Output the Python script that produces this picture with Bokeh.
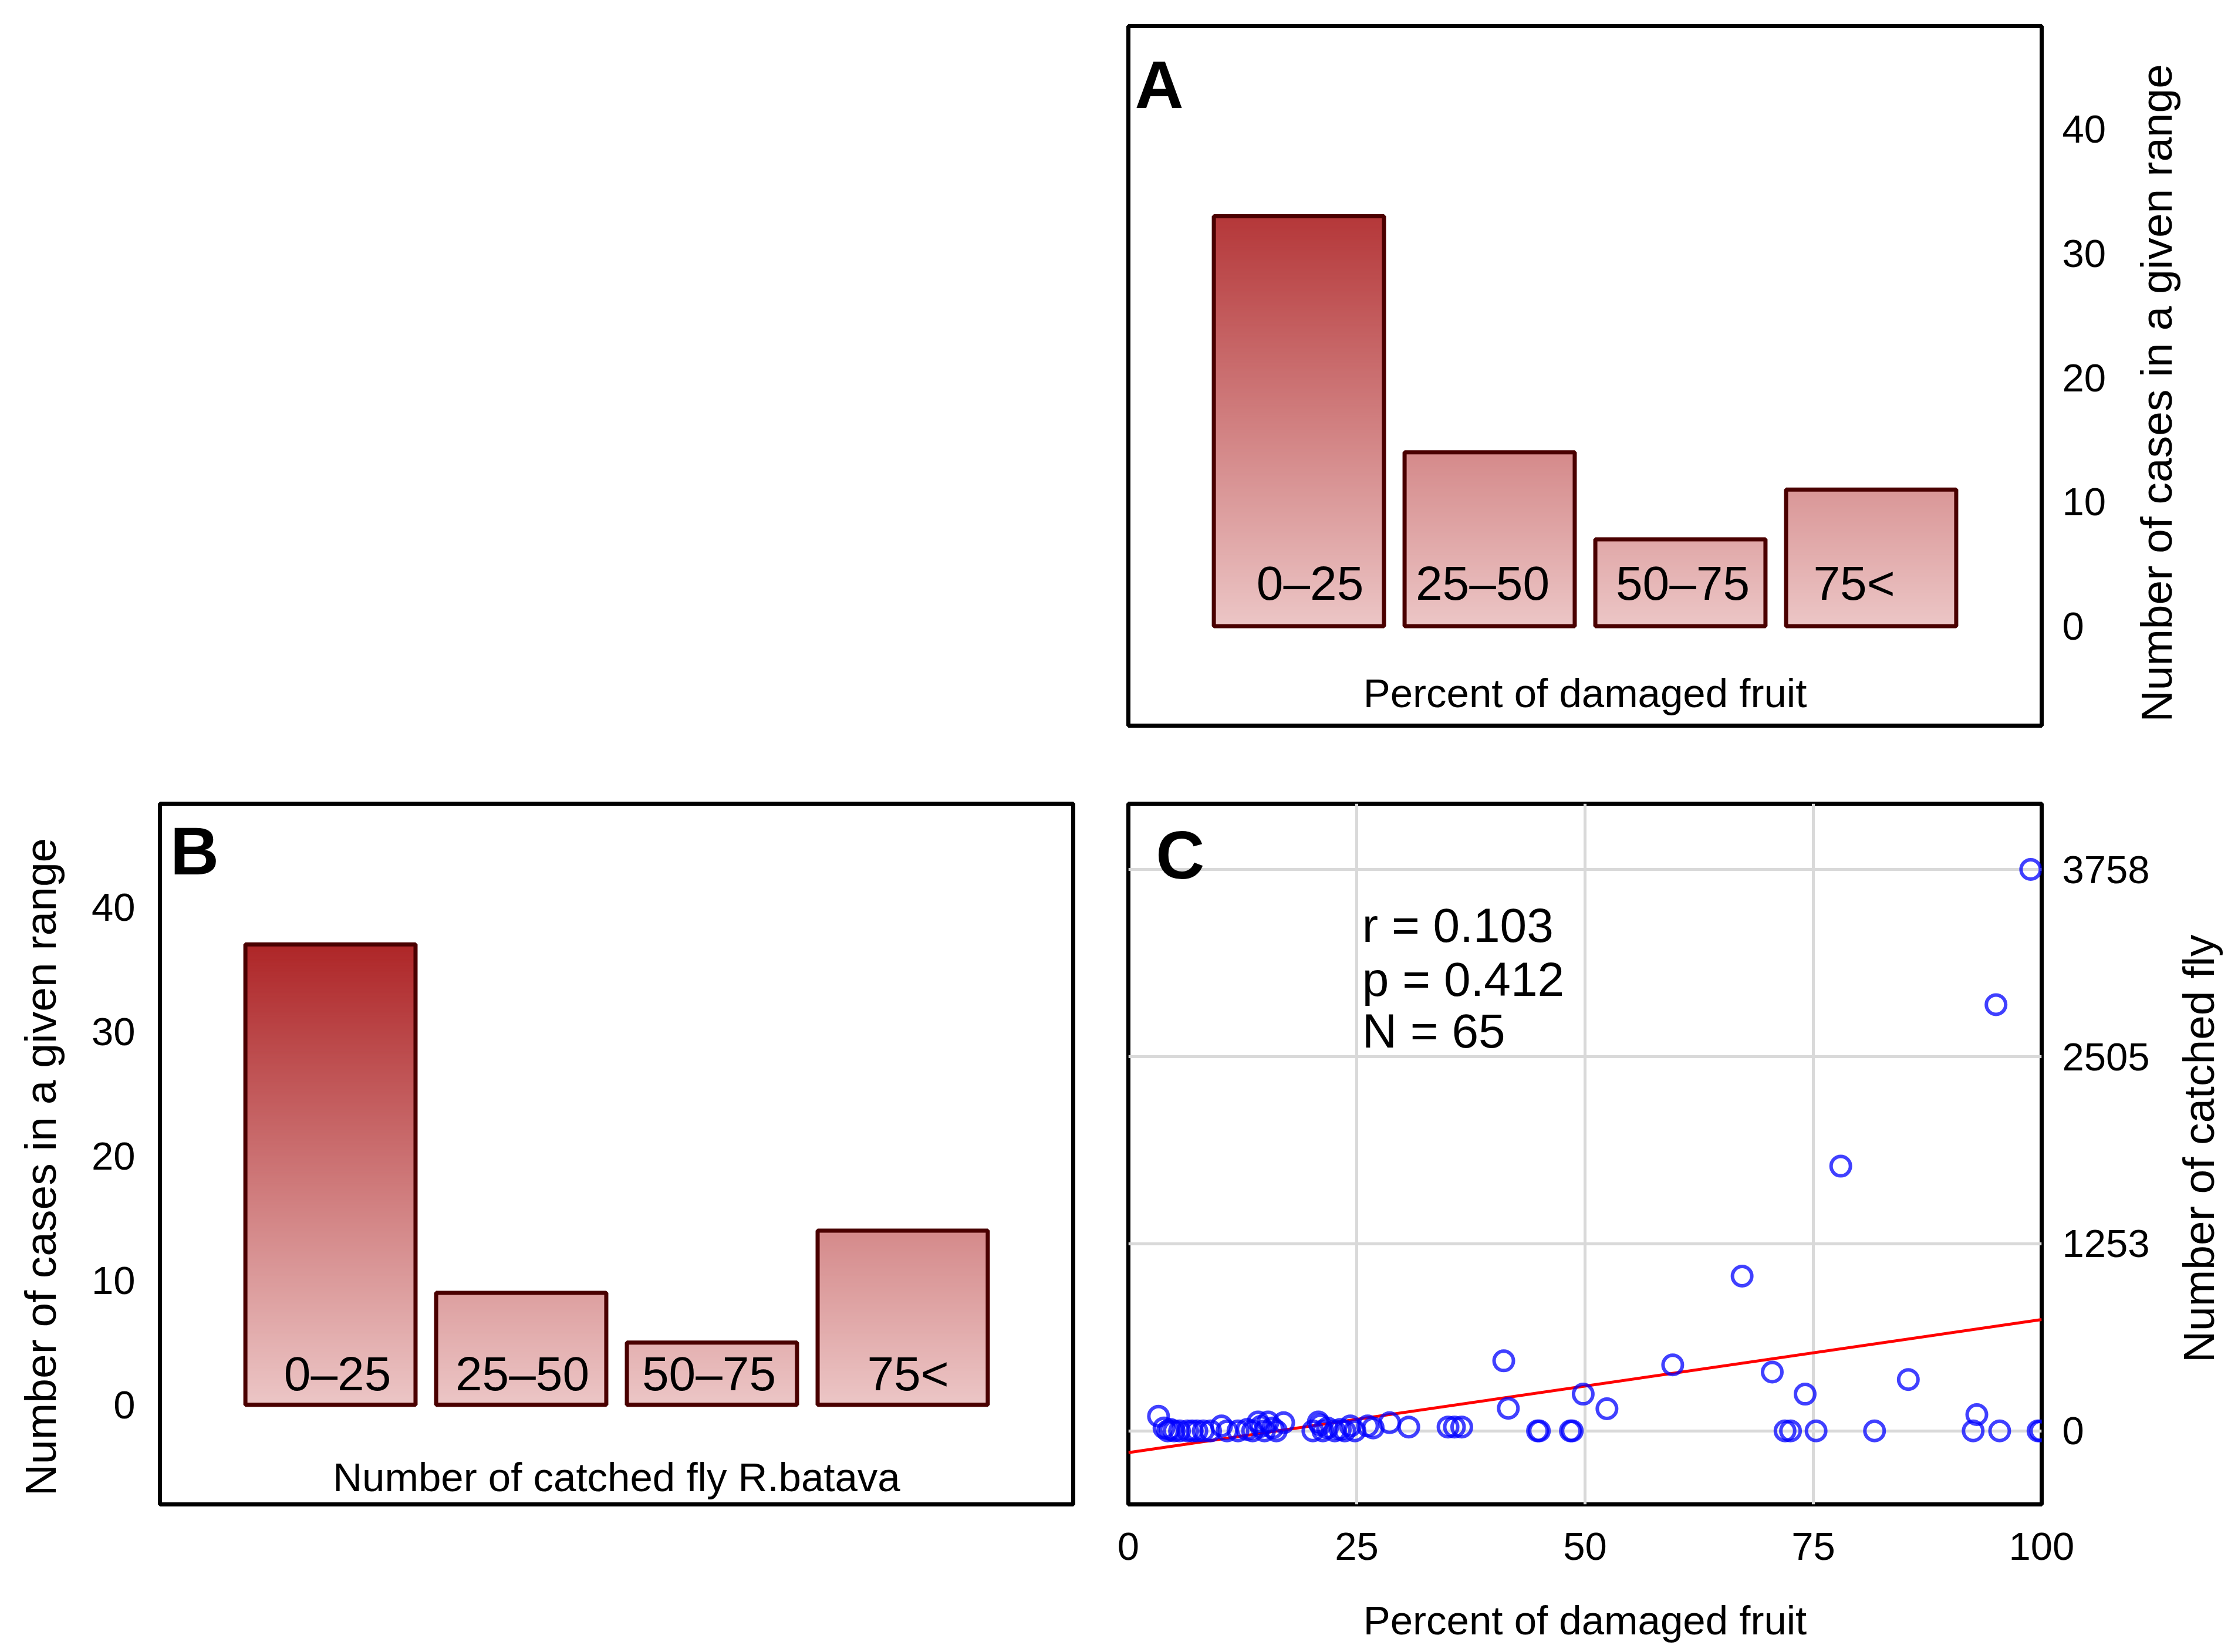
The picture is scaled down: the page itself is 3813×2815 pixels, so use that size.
import math
import numpy as np

from bokeh.plotting import figure
from bokeh.models import Range1d, FixedTicker, Label, Spacer
from bokeh.layouts import row, column
from bokeh.core.properties import value
from bokeh.embed import file_html
from bokeh.resources import INLINE

# ---- data ----
ranges = ['0–25', '25–50', '50–75', '75<']
damaged_cases = [33, 14, 7, 11]      # panel A
fly_cases = [37, 9, 5, 14]           # panel B

fruit_pct = [3.3, 3.9, 4.3, 4.6, 5.0, 5.6, 6.5, 7.0, 7.5, 8.2, 9.0, 10.2, 10.8, 12.0,
             13.0, 13.6, 14.2, 14.5, 14.9, 15.3, 15.8, 16.2, 17.0, 20.2, 20.8, 21.0,
             21.3, 21.8, 22.6, 23.2, 23.7, 24.3, 24.8,
             26.2, 26.8, 28.6, 30.7, 35.0, 35.7, 36.5, 41.1, 41.6, 44.8, 45.0, 48.4,
             48.6, 49.8,
             52.4, 59.6, 67.2, 70.5, 71.9, 72.5, 74.1,
             75.3, 78.0, 81.7, 85.4, 92.5, 92.9, 95.0, 95.4, 98.8, 99.6, 99.9]
fly_count = [98, 20, 0, 10, 0, 0, 0, 0, 0, 0, 0, 33, 0, 0,
             10, 0, 60, 30, 0, 60, 20, 0, 55, 0, 60, 40,
             0, 20, 0, 10, 0, 33, 0,
             33, 20, 55, 26, 26, 26, 26, 469, 151, 0, 0, 0,
             0, 246,
             148, 442, 1036, 394, 0, 0, 246,
             0, 1772, 0, 344, 0, 109, 2853, 0, 3758, 0, 0]

fit_x = [0, 100]
fit_y = [-145, 745]

cases_ticks = [0, 10, 20, 30, 40]
pct_ticks = [0, 25, 50, 75, 100]
fly_ticks = [0, 1253, 2505, 3758]
stats_lines = ['r = 0.103', 'p = 0.412', 'N = 65']
stats_y = [3385, 3024, 2678]

FONT = 'Liberation Sans'
LIGHT = np.array([236, 198, 198])
DARK = np.array([174, 38, 40])
GRAD_TOP = 37.0


def shade(y):
    t = min(max(y / GRAD_TOP, 0.0), 1.0)
    r, g, b = np.round(LIGHT + (DARK - LIGHT) * t).astype(int)
    return '#%02x%02x%02x' % (r, g, b)


def style_axis(ax, standoff):
    ax.axis_line_color = None
    ax.major_tick_line_color = None
    ax.minor_tick_line_color = None
    ax.major_tick_out = 0
    ax.major_tick_in = 0
    ax.major_label_standoff = standoff
    ax.major_label_text_font = FONT
    ax.major_label_text_font_size = '67px'
    ax.major_label_text_color = 'black'


def title_strip(width, height, center_from_top, text):
    # a bare figure that only carries a rotated axis title (reads bottom to top)
    s = figure(width=width, height=height, x_range=Range1d(0, width),
               y_range=Range1d(0, height), x_axis_location=None, y_axis_location=None,
               toolbar_location=None, output_backend='svg', min_border=0)
    s.outline_line_color = None
    s.grid.visible = False
    s.background_fill_color = 'white'
    s.border_fill_color = 'white'
    s.text(x=[width / 2], y=[height - center_from_top], text=[text], angle=math.pi / 2,
           text_font=value(FONT), text_font_size='75px', text_align='center',
           text_baseline='middle', text_color='black')
    return s


def base_figure(width, height, borders, x_range, y_range, x_loc, y_loc):
    p = figure(width=width, height=height, x_range=x_range, y_range=y_range,
               x_axis_location=x_loc, y_axis_location=y_loc,
               toolbar_location=None, output_backend='svg',
               min_border_left=borders[0], min_border_right=borders[1],
               min_border_top=borders[2], min_border_bottom=borders[3])
    p.background_fill_color = 'white'
    p.border_fill_color = 'white'
    p.outline_line_color = 'black'
    p.outline_line_width = 7
    return p


def bar_panel(counts, letter, inner_label, y_loc, width, height, borders,
              label_y, label_dx, letter_xy, inner_y, tick_standoff):
    x0, x1 = -0.394, 4.394
    p = base_figure(width, height, borders, Range1d(x0, x1), Range1d(-8.0, 48.3),
                    None, y_loc)
    p.grid.visible = False
    pos = list(np.arange(len(ranges)) + 0.5)

    # gradient fill: thin slices coloured by height
    step = 0.1
    xs, bots, tops, cols = [], [], [], []
    for x, c in zip(pos, counts):
        for b in np.arange(0, c, step):
            xs.append(x)
            bots.append(b)
            tops.append(min(b + step * 1.6, c))
            cols.append(shade(b + step / 2))
    p.vbar(x=xs, bottom=bots, top=tops, width=0.892, fill_color=cols, line_color=None)
    p.vbar(x=pos, bottom=0, top=counts, width=0.892, fill_color=None,
           line_color='#4a0000', line_width=7)

    p.text(x=pos, y=[label_y] * len(pos), text=ranges, x_offset=label_dx,
           text_font=value(FONT), text_font_size='82px', text_align='center',
           text_baseline='middle', text_color='black')

    p.add_layout(Label(x=letter_xy[0], y=letter_xy[1], text=letter, text_font=FONT,
                       text_font_size='115px', text_font_style='bold',
                       text_baseline='middle', text_color='black'))
    p.add_layout(Label(x=(x0 + x1) / 2, y=inner_y, text=inner_label, text_font=FONT,
                       text_font_size='69px', text_align='center',
                       text_baseline='middle', text_color='black'))

    p.yaxis.ticker = FixedTicker(ticks=cases_ticks)
    style_axis(p.yaxis[0], tick_standoff)
    return p


# row 1: empty corner, panel A, its right-hand title
pA = bar_panel(damaged_cases, 'A', 'Percent of damaged fruit', 'right', 1720, 1304,
               (14, 150, 44, 68), 3.5, [19, -12, 4, -29], (-0.36, 43.6), -5.4, 35)
stripA = title_strip(90, 1304, 684, 'Number of cases in a given range')

# row 2: title of B, panel B, panel C, title of C
stripB = title_strip(136, 1499, 777, 'Number of cases in a given range')
pB = bar_panel(fly_cases, 'B', 'Number of catched fly R.batava', 'left', 1722, 1499,
               (136, 30, 65, 240), 2.5, [12, 2, -5, 9], (-0.34, 44.5), -5.85, 42)

pC = base_figure(1845, 1499, (64, 225, 65, 240), Range1d(0, 100), Range1d(-492, 4198),
                 'below', 'right')
pC.xaxis.ticker = FixedTicker(ticks=pct_ticks)
pC.yaxis.ticker = FixedTicker(ticks=fly_ticks)
pC.grid.grid_line_color = '#d9d9d9'
pC.grid.grid_line_width = 5
style_axis(pC.xaxis[0], 48)
style_axis(pC.yaxis[0], 35)
pC.xaxis.axis_label = 'Percent of damaged fruit'
pC.xaxis.axis_label_text_font = FONT
pC.xaxis.axis_label_text_font_size = '69px'
pC.xaxis.axis_label_text_font_style = 'normal'
pC.xaxis.axis_label_text_color = 'black'
pC.xaxis.axis_label_standoff = 62

pC.line(fit_x, fit_y, line_color='red', line_width=5)
pC.scatter(fruit_pct, fly_count, marker='circle', size=33, fill_color=None,
           line_color='blue', line_alpha=0.75, line_width=6)

for txt, yy in zip(stats_lines, stats_y):
    pC.add_layout(Label(x=25.6, y=yy, text=txt, text_font=FONT, text_font_size='82px',
                        text_baseline='middle', text_color='black'))
pC.add_layout(Label(x=3.0, y=3854, text='C', text_font=FONT, text_font_size='115px',
                    text_font_style='bold', text_baseline='middle', text_color='black'))
stripC = title_strip(84, 1499, 738, 'Number of catched fly')

layout = column(row(Spacer(width=1908, height=1304), pA, stripA),
                row(stripB, pB, pC, stripC))

with open('out.html', 'w') as f:
    f.write(file_html(layout, INLINE))
